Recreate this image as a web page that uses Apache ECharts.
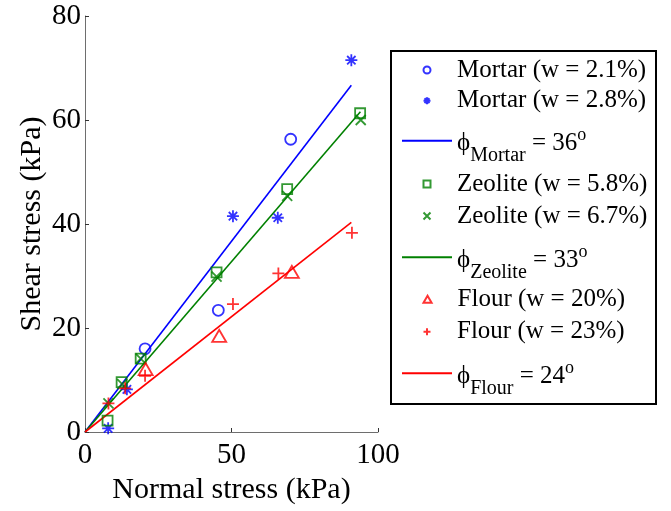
<!DOCTYPE html>
<html>
<head>
<meta charset="utf-8">
<script src="https://cdn.jsdelivr.net/npm/echarts@6/dist/echarts.min.js"></script>
<style>html,body{margin:0;padding:0;background:#fff}#c{width:671px;height:511px}</style>
</head>
<body>
<div id="c"></div>
<script>
// ---- data ----
var xTicks = [0, 50, 100];
var yTicks = [0, 20, 40, 60, 80];

var mortar21X = [20.5, 45.5, 70.2];
var mortar21Y = [16.0, 23.4, 56.3];
var mortar28X = [7.9, 14.3, 50.5, 65.8, 90.9];
var mortar28Y = [0.7, 8.2, 41.5, 41.2, 71.5];
var zeolite58X = [7.7, 12.5, 19.0, 44.9, 69.0, 93.9];
var zeolite58Y = [2.2, 9.6, 14.1, 30.7, 46.7, 61.3];
var zeolite67X = [8.0, 12.7, 19.0, 44.9, 69.0, 94.1];
var zeolite67Y = [5.5, 9.2, 14.1, 29.9, 45.4, 60.0];
var flour20X = [20.7, 45.8, 70.6];
var flour20Y = [12.1, 18.5, 30.8];
var flour23X = [8.0, 13.7, 20.5, 50.5, 66.0, 91.1];
var flour23Y = [5.5, 8.4, 10.8, 24.6, 30.5, 38.3];

var mortarLineX = [0, 90.9];
var mortarLineY = [0, 66.7];
var zeoliteLineX = [0, 94.0];
var zeoliteLineY = [0, 61.6];
var flourLineX = [0, 90.9];
var flourLineY = [0, 40.3];

var phiMaterials = ['Mortar', 'Zeolite', 'Flour'];
var phiAngles = [36, 33, 24];

var names = ['Mortar (w = 2.1%)', 'Mortar (w = 2.8%)', 'phiMortar',
             'Zeolite (w = 5.8%)', 'Zeolite (w = 6.7%)', 'phiZeolite',
             'Flour (w = 20%)', 'Flour (w = 23%)', 'phiFlour'];

// ---- build ----
function pairs(xs, ys) { return xs.map(function (x, i) { return [x, ys[i]]; }); }
var BLUE = '#0000ff', GREEN = '#008000', RED = '#ff0000';
var FONT = "'Liberation Serif', 'Times New Roman', 'DejaVu Serif', serif";
var SYM = {
  square: 'path://M0,0L10,0L10,10L0,10Z',
  tri: 'path://M5,0L10,8.66L0,8.66Z',
  star: 'path://M0,5L10,5M5,0L5,10M1.5,1.5L8.5,8.5M1.5,8.5L8.5,1.5',
  cross: 'path://M0,0L10,10M0,10L10,0',
  plus: 'path://M0,5L10,5M5,0L5,10'
};
function scatter(name, xs, ys, color, symbol, size) {
  return {
    type: 'scatter', name: name, data: pairs(xs, ys), symbol: symbol, symbolSize: size,
    itemStyle: { color: 'rgba(0,0,0,0)', borderColor: color, borderWidth: 1.8 },
    z: 5
  };
}
function fitLine(name, xs, ys, color) {
  return {
    type: 'line', name: name, data: pairs(xs, ys), symbol: 'none', showSymbol: false,
    lineStyle: { color: color, width: 1.6 }, itemStyle: { color: color }, z: 3
  };
}

var series = [
  scatter(names[0], mortar21X, mortar21Y, BLUE, 'circle', 11),
  scatter(names[1], mortar28X, mortar28Y, BLUE, SYM.star, 12),
  fitLine(names[2], mortarLineX, mortarLineY, BLUE),
  scatter(names[3], zeolite58X, zeolite58Y, GREEN, SYM.square, 10),
  scatter(names[4], zeolite67X, zeolite67Y, GREEN, SYM.cross, 10),
  fitLine(names[5], zeoliteLineX, zeoliteLineY, GREEN),
  scatter(names[6], flour20X, flour20Y, RED, SYM.tri, [14, 12]),
  scatter(names[7], flour23X, flour23Y, RED, SYM.plus, 12),
  fitLine(names[8], flourLineX, flourLineY, RED)
];

// legend positions (centre y of each row)
var legendCY = [70, 100.7, 140.7, 184, 216, 257.3, 299.3, 331.7, 373.3];
var rich = {
  m: { fontSize: 25, fontFamily: FONT, color: '#000', lineHeight: 26, padding: [6, 0, 0, 0] },
  s: { fontSize: 20, fontFamily: FONT, color: '#000', lineHeight: 20, padding: [30, 0, 0, 0] },
  p: { fontSize: 18, fontFamily: FONT, color: '#000', lineHeight: 18, padding: [0, 0, 11, 0] }
};
var ICON_W = 50, ICON_H = 7;
var legends = names.map(function (n, i) {
  var isPhi = n.indexOf('phi') === 0;
  var h = isPhi ? 50 : 26;
  return {
    data: [isPhi ? { name: n, itemStyle: { color: 'rgba(0,0,0,0)', borderColor: 'rgba(0,0,0,0)', borderWidth: 0 } } : n],
    orient: 'vertical',
    left: isPhi ? 401 : 401 + (ICON_W - ICON_H) / 2, top: legendCY[i] - h / 2,
    padding: 0, itemWidth: ICON_W, itemHeight: ICON_H, selectedMode: false,
    textStyle: { fontSize: 25, fontFamily: FONT, color: '#000', lineHeight: 26, rich: rich },
    formatter: function (name) {
      if (name.indexOf('phi') === 0) {
        var k = phiMaterials.indexOf(name.slice(3));
        return '{m|\u03D5}{s|' + phiMaterials[k] + '}{m| = ' + phiAngles[k] + '}{p|o}';
      }
      return name;
    }
  };
});

var axisCommon = {
  axisLine: { show: true, onZero: false, lineStyle: { color: '#6e6e6e', width: 1 } },
  axisTick: { show: true, inside: true, length: 4, lineStyle: { color: '#333' } },
  splitLine: { show: false },
  nameLocation: 'middle',
  nameTextStyle: { fontSize: 30, fontFamily: FONT, color: '#000' }
};

var option = {
  animation: false,
  backgroundColor: '#fff',
  grid: { left: 85, top: 16, width: 293, height: 416, containLabel: false },
  xAxis: Object.assign({}, axisCommon, {
    type: 'value', min: xTicks[0], max: xTicks[xTicks.length - 1], interval: xTicks[1] - xTicks[0],
    name: 'Normal stress (kPa)', nameGap: 38,
    axisLabel: { fontSize: 29, fontFamily: FONT, color: '#000', margin: 9 }
  }),
  yAxis: Object.assign({}, axisCommon, {
    type: 'value', min: yTicks[0], max: yTicks[yTicks.length - 1], interval: yTicks[1] - yTicks[0],
    name: 'Shear stress (kPa)', nameGap: 38,
    axisLabel: { fontSize: 29, fontFamily: FONT, color: '#000', margin: 4 }
  }),
  legend: legends,
  graphic: [{
    type: 'rect', left: 390, top: 50, z: 0,
    shape: { width: 265, height: 353 },
    style: { fill: 'rgba(0,0,0,0)', stroke: '#000', lineWidth: 2 }
  }],
  series: series
};

var chart = echarts.init(document.getElementById('c'), null, { renderer: 'canvas' });
chart.setOption(option);
</script>
</body>
</html>
